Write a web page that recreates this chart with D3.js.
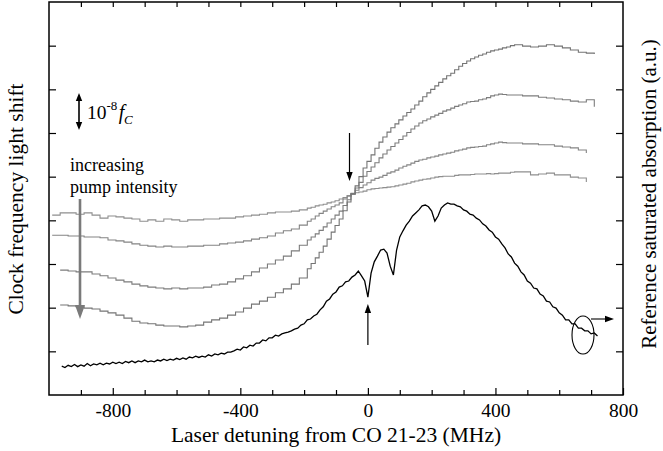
<!DOCTYPE html>
<html><head><meta charset="utf-8">
<script src="https://cdn.jsdelivr.net/npm/d3@7"></script>
<style>
html,body{margin:0;padding:0;background:#fff;}
text{font-family:"Liberation Serif","Times New Roman",serif;fill:#000;}
</style></head>
<body>
<script>
// ---------- DATA ----------
const xTicksMajor = [-800, -400, 0, 400, 800];
const xTicksMinor = [-900, -700, -600, -500, -300, -200, -100, 100, 200, 300, 500, 600, 700];
const xTicksTop = [-900, -800, -700, -600, -500, -400, -300, -200, -100, 0, 100, 200, 300, 400, 500, 600, 700];
const yTicks = [1, 2, 3, 4, 5, 6, 7, 8];

// detuning of the clock light-shift scan steps (MHz)
const detuningScan = [-990,-965,-940,-915,-890,-865,-840,-815,-790,-765,-740,-715,-690,-665,-640,-615,-590,-565,-540,-515,-490,-465,-440,-415,-390,-365,-340,-315,-290,-265,-240,-215,
  -190,-178,-165,-153,-140,-128,-115,-103,-90,-78,-65,-53,-40,-28,-15,-3,10,22,35,47,60,72,85,97,110,122,135,147,160,172,185,197,210,222,235,247,260,272,285,297,310,322,335,347,360,372,385,397,410,422,435,447,460,
  485,510,535,560,585,610,635,660,685,710];

// clock frequency light shift (arb. units), four pump intensities (weak -> strong)
const shiftPump1 = [4.12,4.17,4.17,4.14,4.17,4.12,4.05,4.10,4.08,4.05,4.03,3.98,4.01,3.98,4.03,4.01,3.98,4.01,4.01,4.03,4.03,4.05,4.05,4.08,4.10,4.12,4.14,4.17,4.19,4.19,4.21,4.24,
  4.28,4.30,4.33,4.35,4.37,4.40,4.42,4.45,4.49,4.52,4.56,4.60,4.63,4.65,4.67,4.70,4.72,4.73,4.74,4.75,4.76,4.77,4.79,4.81,4.83,4.85,4.88,4.90,4.92,4.94,4.95,4.97,4.99,5.00,5.01,5.01,5.01,5.03,5.04,5.04,5.04,5.05,5.06,5.06,5.06,5.07,5.06,5.07,5.08,5.08,5.08,5.10,5.11,
  5.11,5.04,5.06,5.08,5.04,5.04,4.99,4.97,4.88,null];
const shiftPump2 = [3.66,3.66,3.64,3.64,3.62,3.62,3.60,3.55,3.53,3.50,3.46,3.43,3.41,3.39,3.41,3.39,3.39,3.41,3.41,3.43,3.43,3.46,3.48,3.50,3.53,3.57,3.60,3.64,3.71,3.76,3.80,3.89,
  3.98,4.03,4.10,4.16,4.21,4.26,4.31,4.35,4.40,4.49,4.56,4.62,4.69,4.75,4.81,4.86,4.92,4.96,4.99,5.03,5.08,5.11,5.15,5.20,5.24,5.27,5.31,5.35,5.38,5.40,5.43,5.45,5.47,5.50,5.52,5.54,5.56,5.59,5.61,5.63,5.66,5.67,5.68,5.69,5.70,5.73,5.75,5.77,5.79,5.78,5.77,5.77,5.77,
  5.75,5.75,5.73,5.73,5.70,5.68,5.66,5.61,5.54,null];
const shiftPump3 = [null,2.86,2.84,2.82,2.82,2.77,2.73,2.68,2.63,2.59,2.54,2.50,2.47,2.45,2.43,2.45,2.43,2.45,2.45,2.47,2.52,2.54,2.59,2.66,2.73,2.82,2.91,3.00,3.09,3.18,3.30,3.43,
  3.55,3.62,3.69,3.77,3.85,3.94,4.03,4.12,4.21,4.34,4.47,4.60,4.74,4.87,5.01,5.12,5.22,5.32,5.43,5.52,5.61,5.69,5.77,5.85,5.93,6.01,6.09,6.16,6.23,6.28,6.32,6.37,6.41,6.45,6.50,6.53,6.57,6.61,6.64,6.67,6.71,6.72,6.73,6.76,6.78,6.81,6.85,6.87,6.89,6.88,6.87,6.87,6.87,
  6.85,6.85,6.82,6.80,6.78,6.76,6.73,6.71,6.76,6.60];
const shiftPump4 = [null,2.06,2.04,2.02,1.99,1.97,1.92,1.88,1.83,1.76,1.69,1.65,1.63,1.60,1.58,1.58,1.56,1.58,1.60,1.67,1.72,1.76,1.83,1.90,1.99,2.08,2.15,2.24,2.34,2.43,2.54,2.68,
  2.89,3.01,3.14,3.27,3.41,3.57,3.73,3.88,4.03,4.22,4.42,4.61,4.79,5.00,5.20,5.35,5.50,5.65,5.79,5.91,6.02,6.12,6.21,6.30,6.39,6.47,6.55,6.64,6.73,6.83,6.92,7.00,7.08,7.16,7.24,7.31,7.37,7.45,7.53,7.59,7.65,7.70,7.74,7.78,7.81,7.85,7.88,7.90,7.92,7.95,7.97,8.00,8.02,
  7.99,7.97,7.99,8.02,7.99,7.95,7.90,7.85,7.83,7.81];

// reference saturated absorption spectrum
const detuningRef = [-960,-950,-940,-930,-920,-910,-900,-890,-880,-870,-860,-850,-840,-830,-820,-810,-800,-790,-780,-770,-760,-750,-740,-730,-720,-710,-700,-690,-680,-670,-660,-650,-640,-630,-620,-610,-600,-590,-580,-570,-560,-550,-540,-530,-520,-510,-500,-490,-480,-470,-460,-450,-440,-430,-420,-410,-400,-390,-380,-370,-360,-350,-340,-330,-320,-310,-300,-290,-280,-270,-260,-250,-240,-230,-220,-210,-200,-190,-180,-170,-160,-150,-140,-130,-120,-110,-100,-90,-80,-70,-60,-50,-40,-30,-20,-10,0,10,20,30,40,50,60,70,80,90,100,110,120,130,140,150,160,170,180,190,200,210,220,230,240,250,260,270,280,290,300,310,320,330,340,350,360,370,380,390,400,410,420,430,440,450,460,470,480,490,500,510,520,530,540,550,560,570,580,590,600,610,620,630,640,650,660,670,680,690,700,710,720];
const absorptionRef = [0.66,0.63,0.68,0.65,0.70,0.65,0.69,0.66,0.72,0.67,0.71,0.69,0.73,0.69,0.73,0.71,0.75,0.72,0.75,0.72,0.77,0.74,0.78,0.74,0.78,0.76,0.80,0.76,0.78,0.76,0.80,0.78,0.82,0.79,0.82,0.80,0.84,0.81,0.85,0.82,0.87,0.85,0.89,0.86,0.89,0.87,0.92,0.89,0.94,0.92,0.96,0.94,0.98,0.98,1.01,1.05,1.03,1.10,1.08,1.14,1.12,1.19,1.19,1.26,1.24,1.31,1.31,1.37,1.35,1.40,1.42,1.44,1.47,1.51,1.53,1.60,1.63,1.72,1.74,1.81,1.85,1.95,2.02,2.15,2.20,2.31,2.36,2.47,2.50,2.59,2.61,2.70,2.75,2.84,2.73,2.61,2.24,2.79,3.05,3.18,3.32,3.34,3.25,2.95,2.75,3.32,3.62,3.76,3.89,3.98,4.10,4.17,4.24,4.33,4.35,4.31,4.21,3.98,4.10,4.28,4.35,4.40,4.37,4.37,4.33,4.31,4.24,4.21,4.14,4.12,4.05,4.01,3.92,3.87,3.78,3.73,3.62,3.57,3.46,3.37,3.23,3.16,3.02,2.95,2.82,2.75,2.61,2.56,2.45,2.43,2.31,2.27,2.15,2.13,2.02,1.99,1.88,1.83,1.72,1.72,1.63,1.63,1.53,1.53,1.47,1.47,1.40,1.42,1.35];

// ---------- CHART ----------
const W = 663, H = 451;
const svg = d3.select("body").append("svg").attr("width", W).attr("height", H);

const x = d3.scaleLinear().domain([-1000, 800]).range([49, 623]);
const y = d3.scaleLinear().domain([0, 9]).range([395, 2]);      // clock light shift
const yRef = d3.scaleLinear().domain([0, 9]).range([395, 2]);   // reference absorption

// axes (ticks inward)
const axBot = svg.append("g").attr("transform", "translate(0,395)")
  .call(d3.axisBottom(x).tickValues(xTicksMajor).tickSize(-7).tickPadding(8).tickFormat(d => String(d)));
const axBotMinor = svg.append("g").attr("transform", "translate(0,395)")
  .call(d3.axisBottom(x).tickValues(xTicksMinor).tickSize(-5).tickFormat(""));
const axTop = svg.append("g").attr("transform", "translate(0,2)")
  .call(d3.axisTop(x).tickValues(xTicksTop).tickSize(-5).tickFormat(""));
const axLeft = svg.append("g").attr("transform", "translate(49,0)")
  .call(d3.axisLeft(y).tickValues(yTicks).tickSize(-7).tickFormat(""));
const axRight = svg.append("g").attr("transform", "translate(623,0)")
  .call(d3.axisRight(yRef).tickValues(yTicks).tickSize(-7).tickFormat(""));
[axBot, axBotMinor, axTop, axLeft, axRight].forEach(g => {
  g.select(".domain").remove();
  g.selectAll(".tick line").attr("stroke", "#000").attr("stroke-width", 1.2);
});
axBot.selectAll(".tick text").attr("font-size", 19.5).attr("font-family", "Liberation Serif").attr("fill", "#000");

// frame
svg.append("rect").attr("x", 49).attr("y", 2).attr("width", 574).attr("height", 393)
  .attr("fill", "none").attr("stroke", "#000").attr("stroke-width", 1.5);

// clock shift step curves
const stepLine = d3.line()
  .defined(d => d[1] != null)
  .x(d => x(d[0])).y(d => y(d[1]))
  .curve(d3.curveStepAfter);
const scans = [
  {vals: shiftPump1, color: "#8e8e8e"},
  {vals: shiftPump2, color: "#848484"},
  {vals: shiftPump3, color: "#7c7c7c"},
  {vals: shiftPump4, color: "#747474"}
];
scans.forEach(s => {
  svg.append("path")
    .datum(detuningScan.map((d, i) => [d, s.vals[i]]))
    .attr("d", stepLine)
    .attr("fill", "none").attr("stroke", s.color).attr("stroke-width", 1.1);
});

// reference absorption
const refLine = d3.line().x(d => x(d[0])).y(d => yRef(d[1]));
svg.append("path")
  .datum(detuningRef.map((d, i) => [d, absorptionRef[i]]))
  .attr("d", refLine)
  .attr("fill", "none").attr("stroke", "#000").attr("stroke-width", 1.3);

// ---------- ANNOTATIONS ----------
function arrowHead(px, py, dir, len, half, color) {
  let p;
  if (dir === "down") p = [[px, py], [px - half, py - len], [px + half, py - len]];
  else if (dir === "up") p = [[px, py], [px - half, py + len], [px + half, py + len]];
  else p = [[px, py], [px - len, py - half], [px - len, py + half]];
  svg.append("path").attr("d", "M" + p.map(q => q.join(",")).join("L") + "Z").attr("fill", color);
}
// down arrow at crossing
svg.append("line").attr("x1", 349.5).attr("x2", 349.5).attr("y1", 133).attr("y2", 174)
  .attr("stroke", "#000").attr("stroke-width", 1.2);
arrowHead(349.5, 181, "down", 9, 3.2, "#000");
// up arrow at 0 MHz dip
svg.append("line").attr("x1", x(0)).attr("x2", x(0)).attr("y1", 345).attr("y2", 311)
  .attr("stroke", "#000").attr("stroke-width", 1.2);
arrowHead(x(0), 304, "up", 9, 3.2, "#000");
// ellipse and right arrow
svg.append("ellipse").attr("cx", 583).attr("cy", 335).attr("rx", 11).attr("ry", 19)
  .attr("fill", "none").attr("stroke", "#000").attr("stroke-width", 1.1);
svg.append("line").attr("x1", 591).attr("x2", 606).attr("y1", 319).attr("y2", 319)
  .attr("stroke", "#000").attr("stroke-width", 1.1);
arrowHead(614, 319, "right", 9, 3.2, "#000");
// scale bar double arrow
svg.append("line").attr("x1", 79).attr("x2", 79).attr("y1", 100).attr("y2", 123)
  .attr("stroke", "#000").attr("stroke-width", 1.6);
arrowHead(79, 93, "up", 8, 3.2, "#000");
arrowHead(79, 130, "down", 8, 3.2, "#000");
const sb = svg.append("text").attr("x", 87).attr("y", 119).attr("font-size", 19.5);
sb.append("tspan").text("10");
sb.append("tspan").attr("font-size", 13).attr("dy", -9).text("-8");
sb.append("tspan").attr("font-size", 20).attr("font-style", "italic").attr("dx", 1.5).attr("dy", 9).text("f");
sb.append("tspan").attr("font-size", 13).attr("font-style", "italic").attr("dx", -0.5).attr("dy", 5).text("C");
// increasing pump intensity
svg.append("text").attr("x", 70).attr("y", 171).attr("font-size", 18).attr("fill", "#222").text("increasing");
svg.append("text").attr("x", 70).attr("y", 193).attr("font-size", 18).attr("fill", "#222").text("pump intensity");
svg.append("line").attr("x1", 80).attr("x2", 80).attr("y1", 199).attr("y2", 306)
  .attr("stroke", "#7a7a7a").attr("stroke-width", 2.6);
arrowHead(80, 319, "down", 14, 5, "#7a7a7a");

// ---------- LABELS ----------
svg.append("text").attr("x", 336).attr("y", 442).attr("text-anchor", "middle")
  .attr("font-size", 21.5).text("Laser detuning from CO 21-23 (MHz)");
svg.append("text").attr("transform", "translate(23,199) rotate(-90)").attr("text-anchor", "middle")
  .attr("font-size", 21.5).text("Clock frequency light shift");
svg.append("text").attr("transform", "translate(656,194) rotate(-90)").attr("text-anchor", "middle")
  .attr("font-size", 21).text("Reference saturated absorption (a.u.)");
</script>
</body></html>
